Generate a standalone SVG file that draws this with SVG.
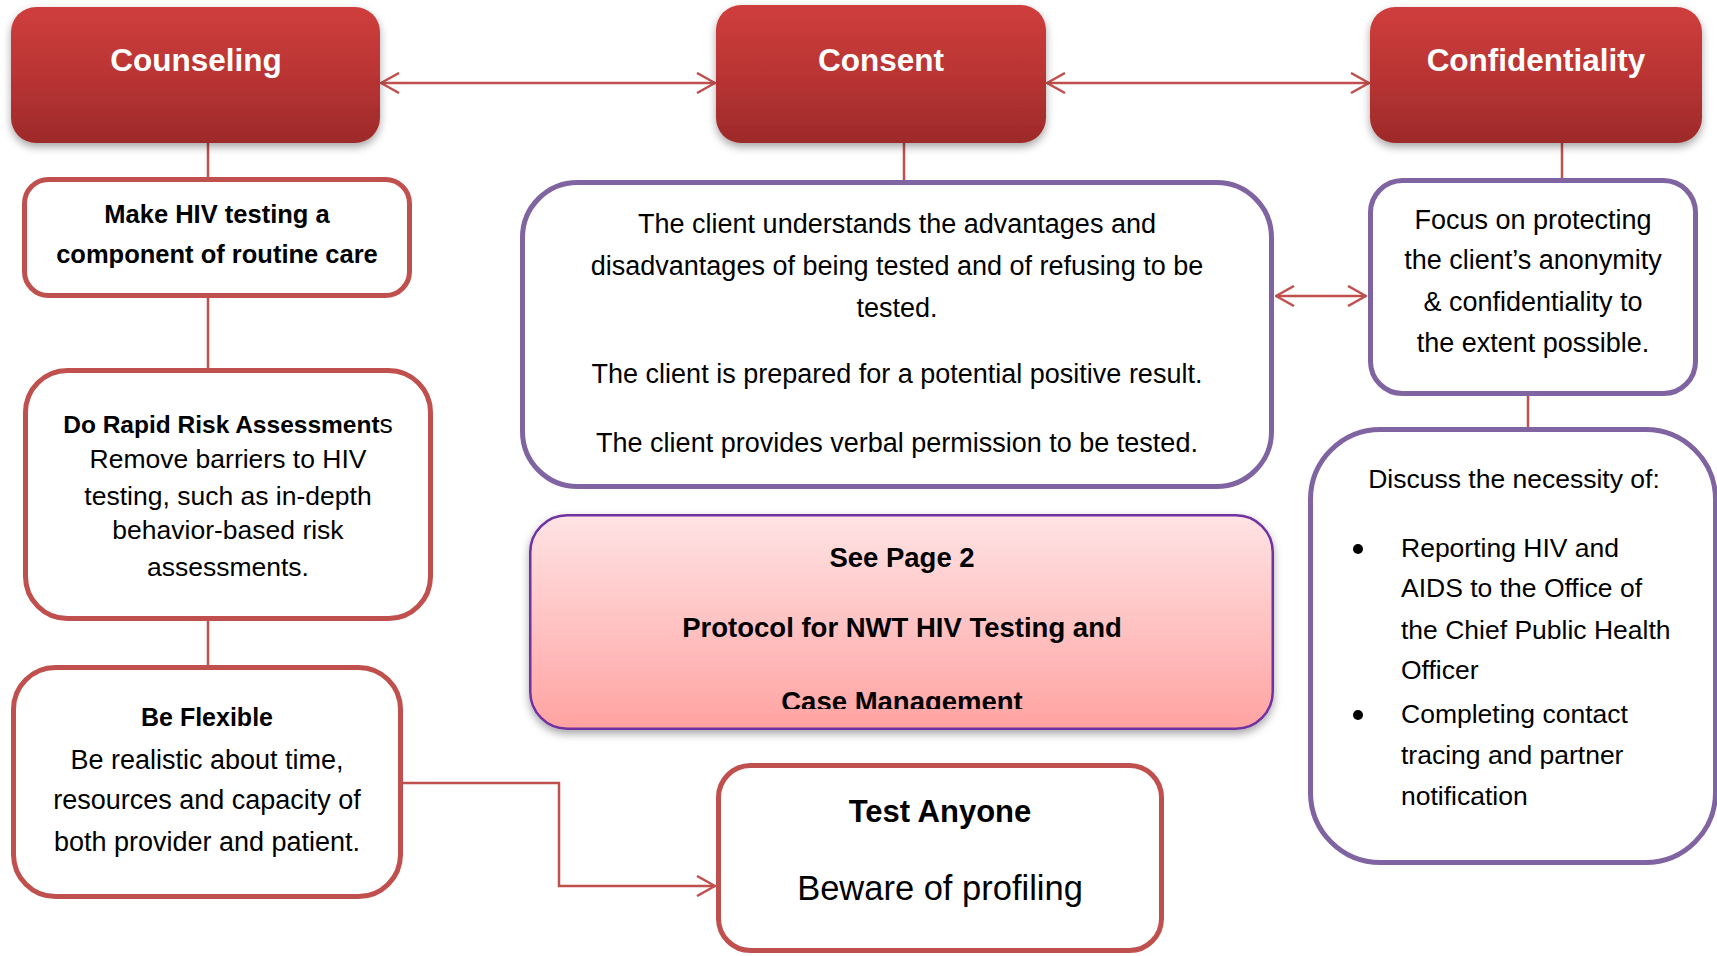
<svg xmlns="http://www.w3.org/2000/svg" width="1717" height="956" viewBox="0 0 1717 956">
<style>
text{font-family:"Liberation Sans",Arial,sans-serif;fill:#000;text-anchor:middle}
.title{font-size:31.5px;font-weight:bold;fill:#fff}
.b{font-weight:bold}
.redbox{fill:#fff;stroke:#C0504D;stroke-width:5}
.purbox{fill:#fff;stroke:#8064A2;stroke-width:5}
.conn{fill:none;stroke:#C0504D;stroke-width:2.5}
.r27{font-size:27px}
.r265{font-size:26.5px}
.lft{text-anchor:start}
</style>
<defs>
<linearGradient id="gRed" x1="0" y1="0" x2="0" y2="1">
<stop offset="0" stop-color="#CF3E3C"/>
<stop offset="0.5" stop-color="#BA3434"/>
<stop offset="1" stop-color="#9D2A2A"/>
</linearGradient>
<linearGradient id="gPink" x1="0" y1="0" x2="0" y2="1">
<stop offset="0" stop-color="#FFE3E4"/>
<stop offset="1" stop-color="#FFA3A2"/>
</linearGradient>
<filter id="sh" x="-10%" y="-10%" width="120%" height="130%">
<feDropShadow dx="0" dy="4" stdDeviation="4" flood-color="#000" flood-opacity="0.35"/>
</filter>
<marker id="arr" viewBox="0 0 20 22" refX="19" refY="11" markerWidth="20" markerHeight="22" markerUnits="userSpaceOnUse" orient="auto-start-reverse">
<path d="M1,1 L19,11 L1,21" fill="none" stroke="#C0504D" stroke-width="2.5"/>
</marker>
<clipPath id="clipCase"><rect x="520" y="500" width="760" height="209"/></clipPath>
</defs>
<rect x="0" y="0" width="1717" height="956" fill="#fff"/>

<g id="connectors">
<line class="conn" x1="381" y1="83" x2="715" y2="83" marker-start="url(#arr)" marker-end="url(#arr)"/>
<line class="conn" x1="1047" y1="83" x2="1369" y2="83" marker-start="url(#arr)" marker-end="url(#arr)"/>
<line class="conn" x1="1276" y1="296" x2="1366" y2="296" marker-start="url(#arr)" marker-end="url(#arr)"/>
<line class="conn" x1="208" y1="134" x2="208" y2="178"/>
<line class="conn" x1="208" y1="298" x2="208" y2="369"/>
<line class="conn" x1="208" y1="621" x2="208" y2="666"/>
<line class="conn" x1="904" y1="140" x2="904" y2="181"/>
<line class="conn" x1="1562" y1="133" x2="1562" y2="179"/>
<line class="conn" x1="1528" y1="396" x2="1528" y2="428"/>
<path class="conn" d="M403,783 H559 V886 H715" marker-end="url(#arr)"/>
</g>

<g id="counseling">
<rect x="11" y="7" width="369" height="136" rx="25" fill="url(#gRed)" filter="url(#sh)"/>
<text class="title" x="196" y="71">Counseling</text>
</g>
<g id="consent">
<rect x="716" y="5" width="330" height="138" rx="25" fill="url(#gRed)" filter="url(#sh)"/>
<text class="title" x="881" y="71">Consent</text>
</g>
<g id="confidentiality">
<rect x="1370" y="7" width="332" height="136" rx="25" fill="url(#gRed)" filter="url(#sh)"/>
<text class="title" x="1536" y="71">Confidentiality</text>
</g>

<g id="make-hiv">
<rect class="redbox" x="24.5" y="179.5" width="385" height="116" rx="24"/>
<text class="b" x="217" y="223" font-size="25.5">Make HIV testing a</text>
<text class="b" x="217" y="263" font-size="25.5">component of routine care</text>
</g>

<g id="rapid-risk">
<rect class="redbox" x="25.5" y="370.5" width="405" height="248" rx="42"/>
<text x="228" y="433"><tspan class="b" font-size="24.5">Do Rapid Risk Assessment</tspan><tspan font-size="26.5">s</tspan></text>
<text class="r265" x="228" y="468">Remove barriers to HIV</text>
<text class="r265" x="228" y="505">testing, such as in-depth</text>
<text class="r265" x="228" y="539">behavior-based risk</text>
<text class="r265" x="228" y="576">assessments.</text>
</g>

<g id="be-flexible">
<rect class="redbox" x="13.5" y="667.5" width="387" height="229" rx="42"/>
<text class="b" x="207" y="726" font-size="25">Be Flexible</text>
<text class="r27" x="207" y="769">Be realistic about time,</text>
<text class="r27" x="207" y="809">resources and capacity of</text>
<text class="r27" x="207" y="851">both provider and patient.</text>
</g>

<g id="consent-details">
<rect class="purbox" x="522.5" y="182.5" width="749" height="304" rx="55"/>
<text class="r27" x="897" y="233">The client understands the advantages and</text>
<text class="r27" x="897" y="275">disadvantages of being tested and of refusing to be</text>
<text class="r27" x="897" y="317">tested.</text>
<text class="r27" x="897" y="383">The client is prepared for a potential positive result.</text>
<text class="r27" x="897" y="452">The client provides verbal permission to be tested.</text>
</g>

<g id="see-page-2">
<rect x="530.25" y="515.25" width="742.5" height="213.5" rx="37" fill="url(#gPink)" stroke="#7030A0" stroke-width="2.5" filter="url(#sh)"/>
<text class="b" x="902" y="567" font-size="27.5">See Page 2</text>
<text class="b" x="902" y="637" font-size="27.5">Protocol for NWT HIV Testing and</text>
<text class="b" x="902" y="711" font-size="27.5" clip-path="url(#clipCase)">Case Management</text>
</g>

<g id="test-anyone">
<rect class="redbox" x="718.5" y="765.5" width="443" height="185" rx="32"/>
<text class="b" x="940" y="822" font-size="31">Test Anyone</text>
<text x="940" y="900" font-size="34.5">Beware of profiling</text>
</g>

<g id="focus">
<rect class="purbox" x="1370.5" y="180.5" width="325" height="213" rx="32"/>
<text class="r27" x="1533" y="229">Focus on protecting</text>
<text class="r27" x="1533" y="269">the client’s anonymity</text>
<text class="r27" x="1533" y="311">&amp; confidentiality to</text>
<text class="r27" x="1533" y="352">the extent possible.</text>
</g>

<g id="discuss">
<rect class="purbox" x="1310.5" y="429.5" width="405" height="433" rx="70"/>
<text class="r265" x="1514" y="488">Discuss the necessity of:</text>
<circle cx="1358" cy="549" r="5" fill="#000"/>
<circle cx="1358" cy="715" r="5" fill="#000"/>
<text class="r265 lft" x="1401" y="557">Reporting HIV and</text>
<text class="r265 lft" x="1401" y="597">AIDS to the Office of</text>
<text class="r265 lft" x="1401" y="639">the Chief Public Health</text>
<text class="r265 lft" x="1401" y="679">Officer</text>
<text class="r265 lft" x="1401" y="723">Completing contact</text>
<text class="r265 lft" x="1401" y="764">tracing and partner</text>
<text class="r265 lft" x="1401" y="805">notification</text>
</g>
</svg>
